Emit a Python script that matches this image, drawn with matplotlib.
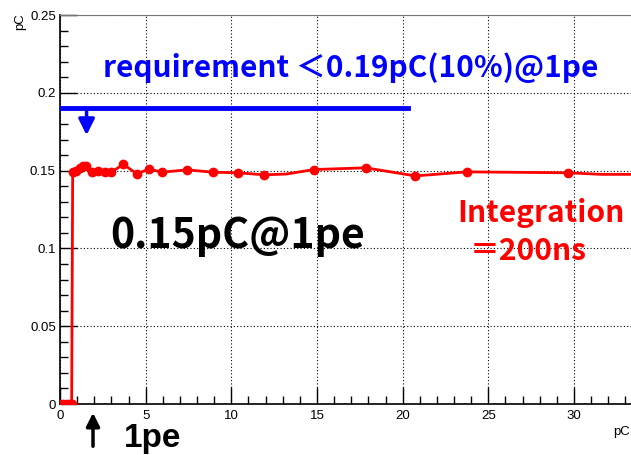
import numpy as np
import matplotlib
matplotlib.use('Agg')
import matplotlib.pyplot as plt
from matplotlib.ticker import MultipleLocator

# charge vs threshold
x_pts = [0.0, 0.2, 0.4, 0.6, 0.68, 0.71, 0.74, 0.93, 1.17, 1.32, 1.52, 1.85, 2.24, 2.63, 2.98,
         3.70, 4.48, 5.21, 5.94, 7.43, 8.91, 10.41, 11.91, 13.2, 14.83, 17.85, 20.74, 23.74,
         29.67, 31.6, 35.0]
y_pts = [0.0, 0.0, 0.0, 0.0, 0.0, 0.075, 0.149, 0.150, 0.152, 0.153, 0.153, 0.149, 0.150,
         0.149, 0.149, 0.154, 0.148, 0.151, 0.149, 0.1505, 0.149, 0.1486, 0.1473, 0.1478,
         0.1507, 0.1518, 0.1466, 0.1492, 0.1486, 0.1476, 0.1476]
no_marker = [5, 23, 29, 30]

req_level = 0.19
req_end = 20.3

FONT = ['Noto Sans CJK JP', 'DejaVu Sans']

fig = plt.figure(figsize=(6.31, 4.55), dpi=100)
ax = fig.add_axes([0.0951, 0.112, 0.905, 0.855])

marks = [i for i in range(len(x_pts)) if i not in no_marker]
ax.plot(x_pts, y_pts, color='#ff0000', lw=2, marker='o', ms=6, markevery=marks, zorder=3)

ax.plot([0, req_end], [req_level, req_level], color='#0000ff', lw=3.5, zorder=3)
ax.annotate('', xy=(1.55, 0.171), xytext=(1.55, 0.191),
            arrowprops=dict(arrowstyle='-|>', color='#0000ff', lw=2.5, mutation_scale=24))

ax.set_xlim(0, 33.33)
ax.set_ylim(0, 0.25)
ax.xaxis.set_major_locator(MultipleLocator(5))
ax.xaxis.set_minor_locator(MultipleLocator(1))
ax.yaxis.set_major_locator(MultipleLocator(0.05))
ax.yaxis.set_minor_locator(MultipleLocator(0.01))
ax.set_yticks([0, 0.05, 0.1, 0.15, 0.2, 0.25])
ax.set_yticklabels(['0', '0.05', '0.1', '0.15', '0.2', '0.25'])
ax.tick_params(which='both', direction='in', labelsize=9.5, width=1)
ax.tick_params(which='major', length=12)
ax.tick_params(which='minor', length=6)
ax.tick_params(axis='x', pad=4)
ax.tick_params(axis='y', pad=3)
for lab in ax.get_xticklabels() + ax.get_yticklabels():
    lab.set_family('Liberation Sans')
ax.grid(True, which='major', color='black', ls=(0, (1, 2)), lw=0.8)
ax.spines['right'].set_visible(False)
ax.spines['top'].set_color('#777777')
ax.spines['left'].set_linewidth(1.2)
ax.spines['bottom'].set_linewidth(1.2)

fig.text(20 / 631, 1 - 22 / 455, 'pC', rotation=90, fontsize=9.5, family='Liberation Sans',
         ha='center', va='center')
fig.text(622 / 631, 1 - 432 / 455, 'pC', fontsize=9.5, family='Liberation Sans',
         ha='center', va='center')

fig.text(351 / 631, 1 - 68 / 455, 'requirement ＜0.19pC(10%)@1pe', color='#0000ff',
         fontsize=21.5, fontweight='bold', family=FONT, ha='center', va='center')
fig.text(238 / 631, 1 - 236 / 455, '0.15pC@1pe', color='black', fontsize=29.5,
         fontweight='bold', family=FONT, ha='center', va='center')
fig.text(541 / 631, 1 - 213 / 455, 'Integration', color='#ff0000', fontsize=21.5,
         fontweight='bold', family=FONT, ha='center', va='center')
fig.text(528 / 631, 1 - 251 / 455, '＝200ns', color='#ff0000', fontsize=21.5,
         fontweight='bold', family=FONT, ha='center', va='center')
fig.text(153 / 631, 1 - 447 / 455, '1pe', color='black', fontsize=24,
         fontweight='bold', family='Liberation Sans', ha='center', va='baseline')
fig.patches.append(matplotlib.patches.FancyArrowPatch(
    (93 / 631, 1 - 449 / 455), (93 / 631, 1 - 410 / 455), transform=fig.transFigure,
    arrowstyle='-|>', mutation_scale=20, color='black', lw=2.5))

fig.savefig('out.png', dpi=100)
